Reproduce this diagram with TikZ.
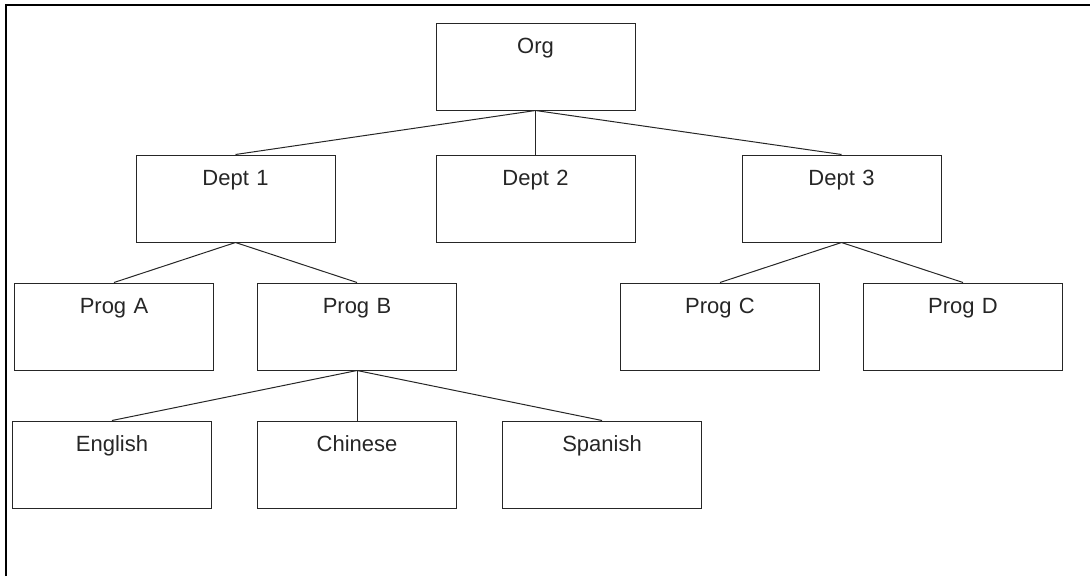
\documentclass[tikz,border=0pt]{standalone}
\usepackage{fontspec}
\setmainfont{Liberation Sans}
\usepackage{xcolor}
\usetikzlibrary{positioning,calc}
\tikzset{
  orgnode/.style = {rectangle, draw=black!85, line width=1pt, inner sep=0pt,
    align=center, text width=199pt, text height=30pt, text depth=57pt,
    font=\fontsize{22}{26}\selectfont, text=black!85},% box, label near top
  frame/.style = {line width=2pt, black}
}

\begin{document}
\begin{tikzpicture}[level 1/.style={sibling distance=300pt, level distance=132pt},
			    level 2/.style={sibling distance=243pt, level distance=128pt},
			    level 3/.style={sibling distance=245pt, level distance=138pt},
			    edge from parent/.style={draw=black!85, line width=1pt},
			    edge from parent path={(\tikzparentnode.south) -- (\tikzchildnode.north)}]

\useasboundingbox (0,0) rectangle (1090pt,-576pt);
\draw[frame] (6pt,-576pt) -- (6pt,-5.3pt) -- (1090pt,-5.3pt);

\node[orgnode] at (535.5pt,-66.5pt) (org) {Org}
	child {node[orgnode] (dept1) {Dept 1}
		child{node[orgnode] (progA) {Prog A}}
		child{node[orgnode] (progB) {Prog B}
			child{node[orgnode] (eng) {English}}
			child{node[orgnode] (chi) {Chinese}}
			child{node[orgnode] (spa) {Spanish}}
		}
	}
	child{node[orgnode] (dept2) {Dept 2}}
	child[xshift=6pt]{node[orgnode] (dept3) {Dept 3}
		child{node[orgnode] (progC) {Prog C}}
		child{node[orgnode] (progD) {Prog D}}
	};
\end{tikzpicture}
\end{document}
